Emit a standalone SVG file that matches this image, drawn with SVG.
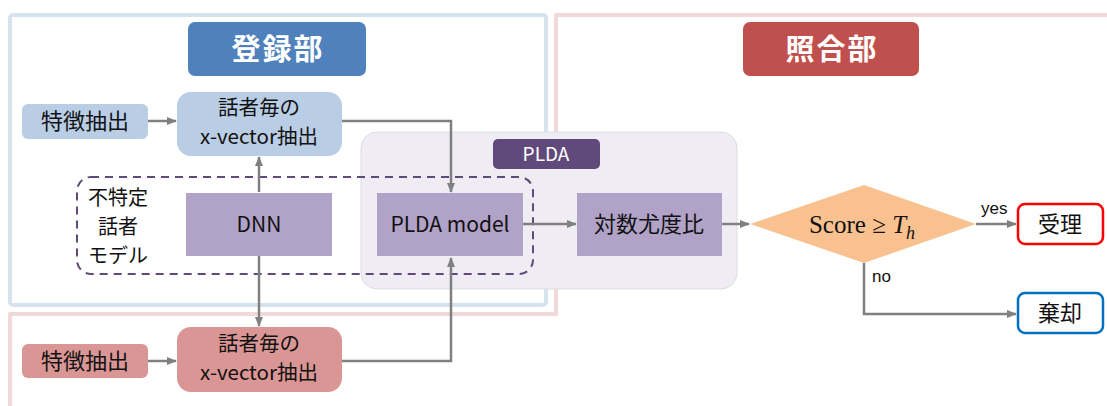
<svg xmlns="http://www.w3.org/2000/svg" width="1107" height="406" viewBox="0 0 1107 406">
  <style>
    .jp { font-family: "Noto Sans CJK JP", "Noto Sans", sans-serif; fill: #111; text-anchor: middle; }
    .lat { font-family: "Noto Sans CJK JP", "Open Sans", sans-serif; fill: #111; text-anchor: middle; }
    .small { font-family: "Liberation Sans", Arial, sans-serif; font-size: 17px; fill: #111; }
    .head { font-family: "Noto Sans CJK JP", sans-serif; font-size: 29px; font-weight: bold; fill: #fff; text-anchor: middle; letter-spacing: 2px; }
    .blue { fill: #b9cde5; }
    .pink { fill: #d99694; }
    .purple { fill: #b1a2c8; }
    .conn { fill: none; stroke: #808080; stroke-width: 2.5; marker-end: url(#arr); }
  </style>
  <defs>
    <marker id="arr" markerUnits="userSpaceOnUse" markerWidth="10" markerHeight="10" viewBox="0 0 10 10" refX="9" refY="5" orient="auto">
      <path d="M0,1 L10,5 L0,9 Z" fill="#808080"/>
    </marker>
  </defs>

  <rect width="1107" height="406" fill="#fff"/>

  <!-- section frames -->
  <g id="frames">
    <rect x="10" y="15" width="536" height="290" rx="3" fill="none" stroke="#d7e2ef" stroke-width="4"/>
    <path d="M1110,15 H556 V314 H10 V410" fill="none" stroke="#f2d9d9" stroke-width="4" stroke-linejoin="round"/>
  </g>

  <!-- PLDA panel -->
  <g id="plda-panel">
    <rect x="361" y="132" width="376" height="157" rx="16" fill="#efedf3" stroke="#dddae3" stroke-width="1"/>
    <rect x="493" y="139" width="107" height="30" rx="5" fill="#604a7b"/>
    <text x="546" y="161" class="lat" font-size="19" style="fill:#fff">PLDA</text>
  </g>

  <!-- headers -->
  <g id="header-enroll">
    <rect x="188" y="22" width="178" height="54" rx="7" fill="#4f81bd"/>
    <text x="278" y="60" class="head">登録部</text>
  </g>
  <g id="header-verify">
    <rect x="743" y="22" width="176" height="54" rx="7" fill="#c0504d"/>
    <text x="832" y="60" class="head">照合部</text>
  </g>

  <!-- universal speaker model group -->
  <g id="ubm-group">
    <rect x="77" y="177" width="456" height="97" rx="14" fill="none" stroke="#604a7b" stroke-width="2" stroke-dasharray="8 6"/>
    <text class="jp" font-size="20" x="118" y="205">不特定</text>
    <text class="jp" font-size="20" x="118" y="234">話者</text>
    <text class="jp" font-size="20" x="118" y="263">モデル</text>
  </g>

  <!-- connectors -->
  <g id="connectors">
    <path class="conn" d="M148,121 H176"/>
    <path class="conn" d="M342,121 H451 V192"/>
    <path class="conn" d="M259,192 V157"/>
    <path class="conn" d="M259,256 V326"/>
    <path class="conn" d="M148,361 H176"/>
    <path class="conn" d="M342,361 H451 V258"/>
    <path class="conn" d="M523,224 H576"/>
    <path class="conn" d="M722,224 H749"/>
    <path class="conn" d="M976,224 H1016"/>
    <path class="conn" d="M864,263 V314 H1016"/>
    <text class="small" x="981" y="214">yes</text>
    <text class="small" x="872" y="282">no</text>
  </g>

  <!-- enrollment nodes -->
  <g id="feat-enroll">
    <rect class="blue" x="22" y="104" width="126" height="35" rx="6"/>
    <text class="jp" font-size="22" x="85" y="129">特徴抽出</text>
  </g>
  <g id="xvec-enroll">
    <rect class="blue" x="177" y="92" width="165" height="64" rx="14"/>
    <text class="jp" font-size="20.5" x="259" y="115">話者毎の</text>
    <text class="lat" font-size="20.5" x="259" y="144">x-vector抽出</text>
  </g>

  <!-- model nodes -->
  <g id="dnn">
    <rect class="purple" x="186" y="193" width="146" height="63"/>
    <text class="lat" font-size="21" x="259" y="232">DNN</text>
  </g>
  <g id="plda-model">
    <rect class="purple" x="377" y="193" width="146" height="63"/>
    <text class="lat" font-size="21" x="450" y="232">PLDA model</text>
  </g>
  <g id="llr">
    <rect class="purple" x="577" y="193" width="145" height="63"/>
    <text class="jp" font-size="22" x="649" y="232">対数尤度比</text>
  </g>

  <!-- verification nodes -->
  <g id="feat-verify">
    <rect class="pink" x="22" y="344" width="126" height="34" rx="6"/>
    <text class="jp" font-size="22" x="85" y="369">特徴抽出</text>
  </g>
  <g id="xvec-verify">
    <rect class="pink" x="177" y="327" width="165" height="65" rx="14"/>
    <text class="jp" font-size="20.5" x="259" y="351">話者毎の</text>
    <text class="lat" font-size="20.5" x="259" y="380">x-vector抽出</text>
  </g>

  <!-- decision -->
  <g id="decision">
    <polygon points="750,224 864,185 976,224 864,263" fill="#f9c18f"/>
    <text x="862" y="233" font-family="'Liberation Serif', 'DejaVu Serif', serif" font-size="25" fill="#111" text-anchor="middle">Score ≥ <tspan font-style="italic">T</tspan><tspan font-style="italic" font-size="18" dy="6">h</tspan></text>
  </g>
  <g id="accept">
    <rect x="1018" y="204" width="85" height="40" rx="7" fill="#fff" stroke="#ff0000" stroke-width="2.5"/>
    <text class="jp" font-size="22" x="1060" y="232">受理</text>
  </g>
  <g id="reject">
    <rect x="1018" y="293" width="85" height="40" rx="7" fill="#fff" stroke="#0070c0" stroke-width="2.5"/>
    <text class="jp" font-size="22" x="1060" y="321">棄却</text>
  </g>
</svg>
